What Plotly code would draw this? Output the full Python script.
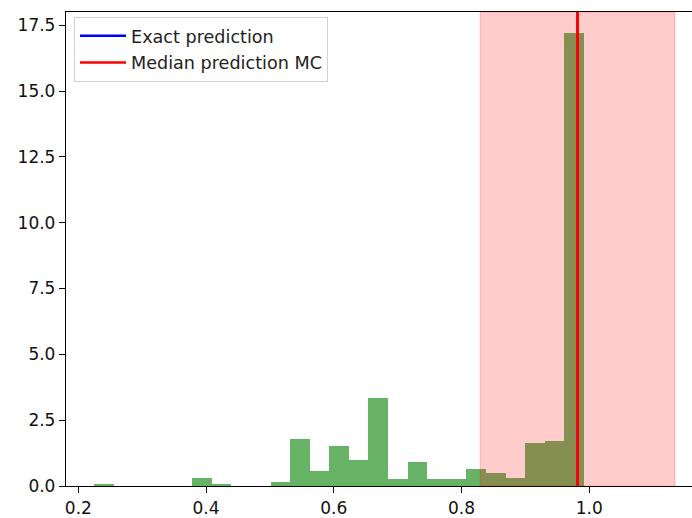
import numpy as np
import plotly.graph_objects as go

# Histogram of Monte Carlo predictions (density-normalised, 25 equal bins)
sample_min = 0.2250
sample_max = 0.9916
density = [0.065, 0.0, 0.0, 0.0, 0.0, 0.29, 0.065, 0.0, 0.0, 0.15,
           1.77, 0.56, 1.52, 0.99, 3.33, 0.25, 0.90, 0.25, 0.25, 0.63,
           0.48, 0.29, 1.62, 1.71, 17.2]

exact_prediction = 0.9815
median_prediction = 0.9815
interval_low = 0.8292
interval_high = 1.1340

x_ticks = [0.2, 0.4, 0.6, 0.8, 1.0]
y_ticks = [0.0, 2.5, 5.0, 7.5, 10.0, 12.5, 15.0, 17.5]

edges = np.linspace(sample_min, sample_max, len(density) + 1)
centers = (edges[:-1] + edges[1:]) / 2
width = edges[1] - edges[0]

y_top = 18.0
font = dict(family="DejaVu Sans", size=17, color="#111")

fig = go.Figure()
fig.add_trace(go.Bar(
    x=centers, y=density, width=[width] * len(density),
    marker=dict(color="rgba(0,128,0,0.6)", line=dict(width=0)),
    showlegend=False, hoverinfo="skip",
))
fig.add_trace(go.Scatter(
    x=[exact_prediction, exact_prediction], y=[0, y_top], mode="lines",
    line=dict(color="blue", width=2.5), name="Exact prediction",
    legendgroup="a",
))
fig.add_trace(go.Scatter(
    x=[median_prediction, median_prediction], y=[0, y_top], mode="lines",
    line=dict(color="red", width=2.5), name="Median prediction MC",
    legendgroup="b",
))

# shaded prediction interval
fig.add_shape(type="rect", xref="x", yref="paper",
              x0=interval_low, x1=interval_high, y0=0, y1=1,
              fillcolor="rgba(255,0,0,0.2)",
              line=dict(color="rgba(255,0,0,0.2)", width=1.2),
              layer="above")
# red line re-drawn over the shading
fig.add_shape(type="line", xref="x", yref="paper",
              x0=median_prediction, x1=median_prediction, y0=0, y1=1,
              line=dict(color="red", width=2.5), layer="above")

fig.update_layout(
    width=692, height=518,
    margin=dict(l=66, r=0, t=12, b=32),
    paper_bgcolor="white", plot_bgcolor="white",
    bargap=0, font=font,
    xaxis=dict(range=[0.1807, 1.1608], tickvals=x_ticks,
               ticktext=[f"{v:.1f}" for v in x_ticks],
               showgrid=False, zeroline=False,
               showline=True, linecolor="black", linewidth=1.3, mirror=True,
               ticks="outside", ticklen=6, tickwidth=1.3, tickcolor="black",
               tickfont=font),
    yaxis=dict(range=[0, y_top], tickvals=y_ticks,
               ticktext=[f"{v:.1f}" for v in y_ticks],
               showgrid=False, zeroline=False,
               showline=True, linecolor="black", linewidth=1.3,
               ticks="outside", ticklen=6, tickwidth=1.3, tickcolor="black",
               tickfont=font),
    legend=dict(x=0.0128, y=0.99, xanchor="left", yanchor="top",
                bgcolor="rgba(255,255,255,0.8)", bordercolor="#d0d0d0",
                borderwidth=1, itemwidth=46,
                font=dict(family="DejaVu Sans", size=17.6, color="#222"),
                tracegroupgap=1),
)

fig.write_html("out.html")
